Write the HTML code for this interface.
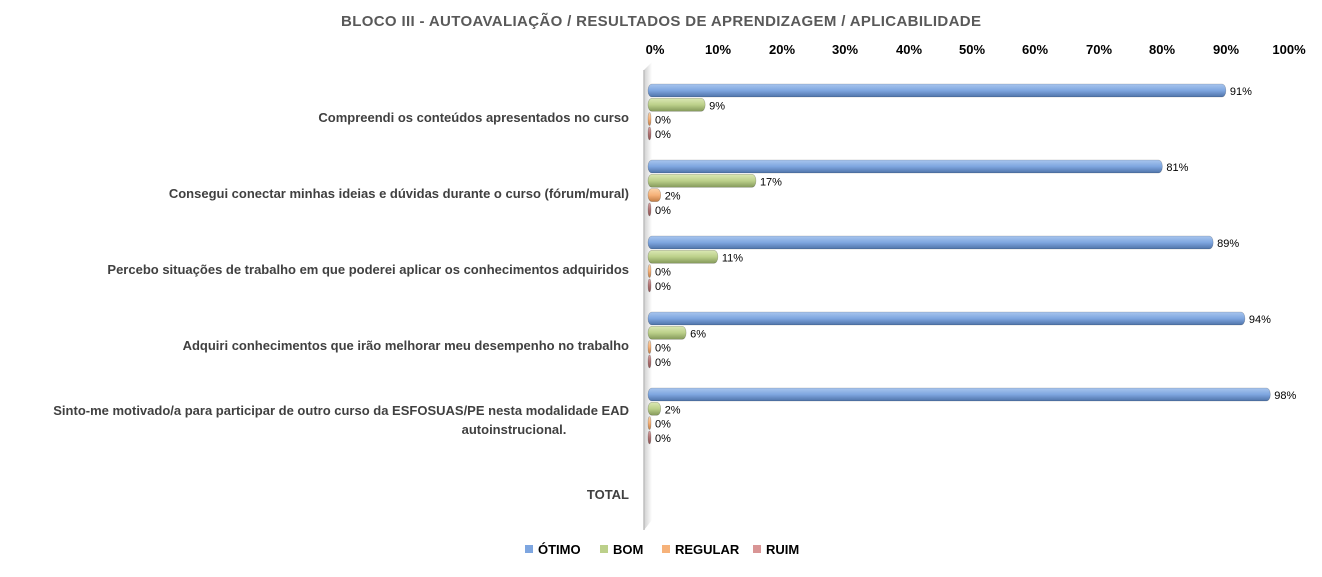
<!DOCTYPE html>
<html><head><meta charset="utf-8"><style>
body{margin:0;background:#fff;}
svg text{font-family:"Liberation Sans",sans-serif;}
</style></head><body>
<svg width="1322" height="572" xmlns="http://www.w3.org/2000/svg">
<defs>
<linearGradient id="gb" x1="0" y1="0" x2="0" y2="1"><stop offset="0" stop-color="#a9c6ee"/><stop offset="0.5" stop-color="#7ea6e0"/><stop offset="1" stop-color="#4f73a8"/></linearGradient>
<linearGradient id="gg" x1="0" y1="0" x2="0" y2="1"><stop offset="0" stop-color="#dbe8b4"/><stop offset="0.5" stop-color="#bcd08a"/><stop offset="1" stop-color="#84995a"/></linearGradient>
<linearGradient id="go" x1="0" y1="0" x2="0" y2="1"><stop offset="0" stop-color="#fcd3a8"/><stop offset="0.5" stop-color="#f6b27a"/><stop offset="1" stop-color="#c27d45"/></linearGradient>
<linearGradient id="gr" x1="0" y1="0" x2="0" y2="1"><stop offset="0" stop-color="#d9a0a0"/><stop offset="1" stop-color="#8c4e4e"/></linearGradient>
<linearGradient id="wall" x1="0" y1="0" x2="1" y2="0"><stop offset="0" stop-color="#d0d0d0"/><stop offset="1" stop-color="#ffffff"/></linearGradient>
</defs>
<text x="661" y="26" text-anchor="middle" font-size="15" font-weight="bold" fill="#595959" textLength="640">BLOCO III - AUTOAVALIAÇÃO / RESULTADOS DE APRENDIZAGEM / APLICABILIDADE</text>
<g font-size="13" font-weight="bold" fill="#000" text-anchor="middle">
<text x="655" y="54">0%</text><text x="718" y="54">10%</text><text x="782" y="54">20%</text><text x="845" y="54">30%</text><text x="909" y="54">40%</text><text x="972" y="54">50%</text><text x="1035" y="54">60%</text><text x="1099" y="54">70%</text><text x="1162" y="54">80%</text><text x="1226" y="54">90%</text><text x="1289" y="54">100%</text>
</g>
<polygon points="644,70 652,62 652,520 644,530" fill="url(#wall)"/>
<line x1="644" y1="70" x2="644" y2="530" stroke="#bfbfbf" stroke-width="1.5"/>
<g font-size="13" font-weight="bold" fill="#404040" text-anchor="end">
<text x="629" y="122">Compreendi os conteúdos apresentados no curso</text>
<text x="629" y="198">Consegui conectar minhas ideias e dúvidas durante o curso (fórum/mural)</text>
<text x="629" y="274">Percebo situações de trabalho em que poderei aplicar os conhecimentos adquiridos</text>
<text x="629" y="350">Adquiri conhecimentos que irão melhorar meu desempenho no trabalho</text>
<text x="629" y="415">Sinto-me motivado/a para participar de outro curso da ESFOSUAS/PE nesta modalidade EAD</text>
<text x="514" y="434" text-anchor="middle">autoinstrucional.</text>
<text x="629" y="499">TOTAL</text>
</g>
<g id="bars" font-size="11" fill="#000"></g>
<g font-size="13" font-weight="bold" fill="#000">
<rect x="525" y="545" width="8" height="8" fill="#7ea6e0"/><text x="538" y="554">ÓTIMO</text>
<rect x="600" y="545" width="8" height="8" fill="#bcd08a"/><text x="613" y="554">BOM</text>
<rect x="662" y="545" width="8" height="8" fill="#f6b27a"/><text x="675" y="554">REGULAR</text>
<rect x="753" y="545" width="8" height="8" fill="#d99595"/><text x="766" y="554">RUIM</text>
</g>
</svg>
<script>
var d=[[91,9,0,0],[81,17,2,0],[89,11,0,0],[94,6,0,0],[98,2,0,0]];
var f=["url(#gb)","url(#gg)","url(#go)","url(#gr)"];
var g=document.getElementById("bars"),s="";
for(var i=0;i<5;i++)for(var j=0;j<4;j++){
 var y=84+i*76+j*14.3,w=Math.max(d[i][j]*6.35,3),x0=648;
 s+='<rect x="'+x0+'" y="'+y+'" width="'+w+'" height="13" rx="4" ry="6" fill="'+f[j]+'" stroke="rgba(0,0,0,0.25)" stroke-width="0.6"/>';
 s+='<text x="'+(x0+w+4)+'" y="'+(y+11)+'">'+d[i][j]+'%</text>';
}
g.innerHTML=s;
</script>
</body></html>
